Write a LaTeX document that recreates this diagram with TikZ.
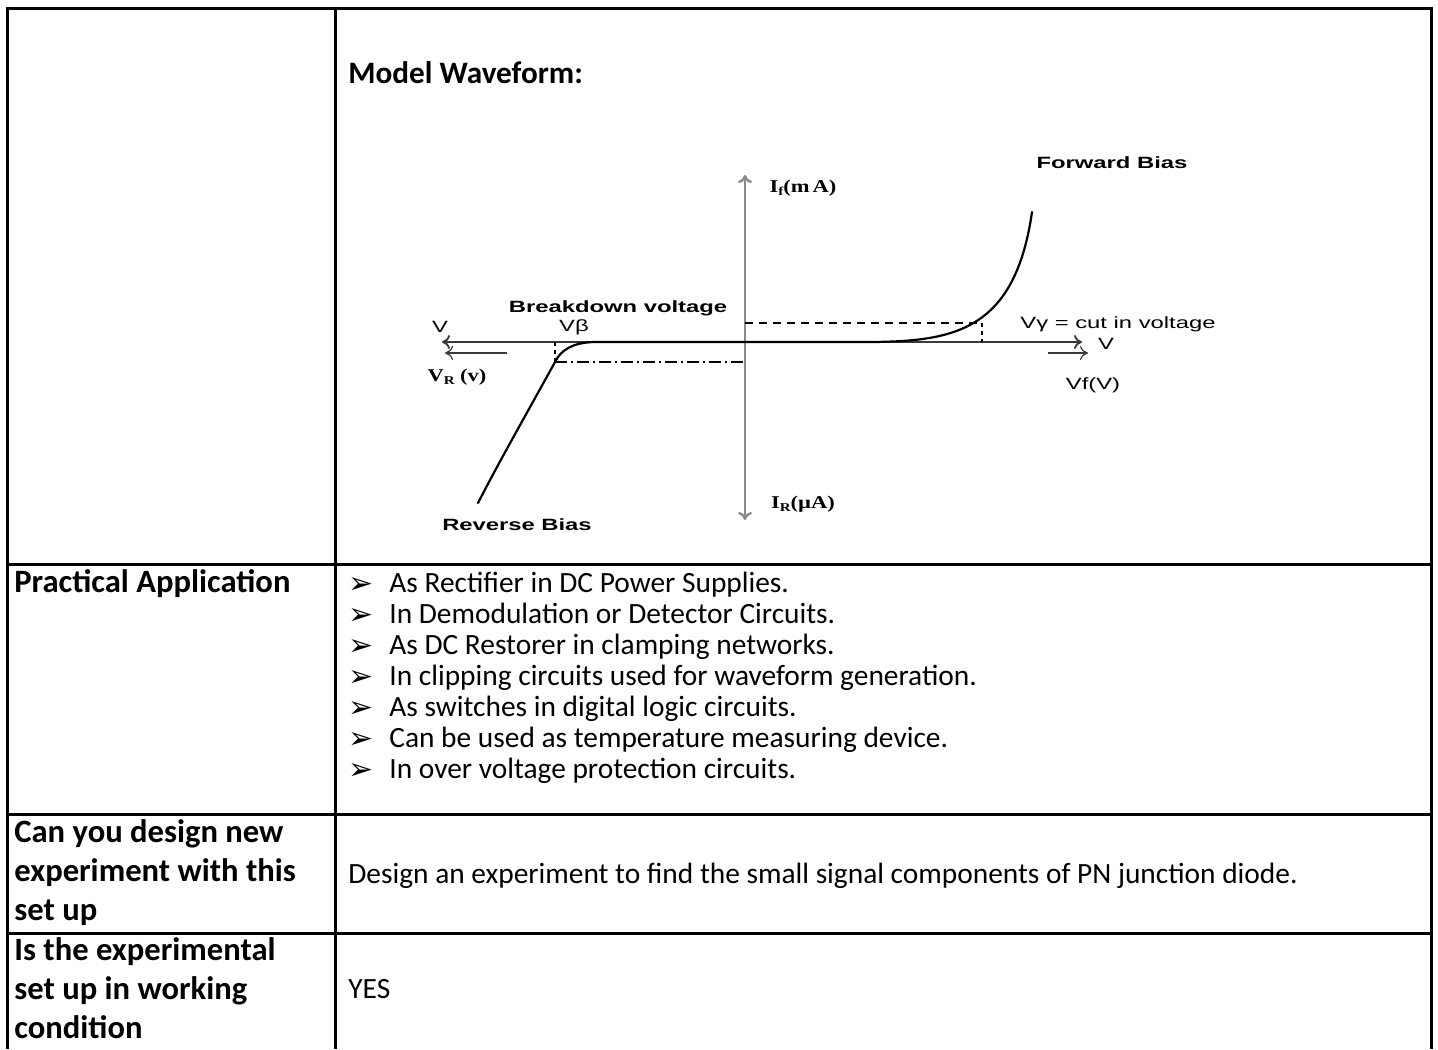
\documentclass[tikz,border=0pt]{standalone}
\usepackage{fontspec}
\usetikzlibrary{arrows.meta, positioning, calc}
\newfontfamily\calx{Carlito}
\newfontfamily\arialx[FakeStretch=1.46]{Liberation Sans}
\newfontfamily\timesx[FakeStretch=1.25]{Liberation Serif}
\newfontfamily\symx{DejaVu Sans}
\definecolor{axisgray}{HTML}{8A8A8A}
\definecolor{inkgray}{HTML}{3A3A3A}

\begin{document}
\begin{tikzpicture}[
  x=0.5pt, y=-0.5pt,
  rule/.style={line width=1.5pt},
  cell/.style={anchor=base west, inner sep=0pt,
    font=\calx\fontsize{14.7}{17}\selectfont},
  head/.style={cell, font=\calx\bfseries\fontsize{16.3}{19}\selectfont},
  lbl/.style={inner sep=0pt, font=\arialx\fontsize{8.15}{10}\selectfont},
  blbl/.style={lbl, font=\arialx\bfseries\fontsize{8.15}{10}\selectfont},
  tlbl/.style={inner sep=0pt, font=\timesx\bfseries\fontsize{9}{11}\selectfont},
  curve/.style={line width=1.1pt, line cap=round},
  guide/.style={line width=0.6pt, dash pattern=on 4pt off 3pt},
  >={To[length=4pt,width=7pt]}
]
  \useasboundingbox (0,0) rectangle (1438,1049);

  % Table frame
  \draw[rule] (7,1049) -- (7,8) -- (1431,8) -- (1431,1049);
  \draw[rule] (335,8) -- (335,1049);
  \foreach \r in {564,814,933} {
    \draw[rule] (7,\r) -- (1431,\r);
  }

  % Waveform cell
  \node[head, font=\calx\bfseries\fontsize{15.6}{18}\selectfont] (model) at (348,83) {Model Waveform:};

  % Axes
  \coordinate (o) at (745,342);
  \coordinate (ytop) at (745,175);
  \coordinate (ybot) at (745,520);
  \coordinate (xleft) at (442,342);
  \coordinate (xright) at (1082,342);
  \draw[->, line width=1.2pt, axisgray] (o) -- (ytop);
  \draw[->, line width=1.2pt, axisgray] (o) -- (ybot);
  \draw[->, line width=0.9pt, inkgray] (o) -- (xleft);
  \draw[->, line width=0.9pt, inkgray] (o) -- (xright);

  \coordinate (vrs) at (507,353);
  \coordinate (vre) at (445,353);
  \coordinate (vfs) at (1048,353);
  \coordinate (vfe) at (1088,353);
  \draw[->, line width=0.6pt, inkgray] (vrs) -- (vre);
  \draw[->, line width=0.6pt, inkgray] (vfs) -- (vfe);

  % Characteristic
  \coordinate (kf) at (982,323);
  \coordinate (kr) at (555,362);
  \draw[curve] (745,342) -- (873,342)
    .. controls (955,341) and (1015,330) .. (1032,212);
  \draw[curve] (745,342) -- (593,342)
    .. controls (572,343) and (561,350) .. (kr)
    .. controls (532,404) and (500,460) .. (478,503);

  % Guides
  \draw[guide] (745,323) -- (kf);
  \draw[guide, dash pattern=on 2pt off 2pt] (kf) -- (982,342);
  \draw[guide, dash pattern=on 2pt off 2pt] (555,342) -- (kr);
  \draw[guide, dash pattern=on 6pt off 2pt on 1pt off 2pt] (kr) -- (745,362);

  % Labels
  \node[blbl] (fwd) at (1112,163) {Forward Bias};
  \node[blbl] (rev) at (517,525) {Reverse Bias};
  \node[blbl] (bdv) at (618,308) {Breakdown voltage};
  \node[lbl] (vbeta) at (574,327) {Vβ};
  \node[lbl] (vleft) at (440,327) {V};
  \node[lbl] (vright) at (1106,344) {V};
  \node[lbl] (vcut) at (1118,324) {Vγ = cut in voltage};
  \node[lbl] (vf) at (1093,385) {Vf(V)};
  \node[tlbl] (iflbl) at (803,188) {I\raisebox{-0.35ex}{\fontsize{6}{6}\selectfont f}(m\,A)};
  \node[tlbl] (irlbl) at (803,504) {I\raisebox{-0.35ex}{\fontsize{6}{6}\selectfont R}(\textmu A)};
  \node[tlbl] (vrlbl) at (457,377) {V\raisebox{-0.35ex}{\fontsize{6}{6}\selectfont R} (v)};

  % Practical application
  \node[head] (practical) at (14,592) {Practical Application};
  \foreach \t [count=\i] in {As Rectifier in DC Power Supplies.,
      In Demodulation or Detector Circuits.,
      As DC Restorer in clamping networks.,
      In clipping circuits used for waveform generation.,
      As switches in digital logic circuits.,
      Can be used as temperature measuring device.,
      In over voltage protection circuits.} {
    \node[cell, font=\symx\fontsize{15}{17}\selectfont] (arr\i) at (348,{593+31*(\i-1)}) {➢};
    \node[cell] (app\i) at (389,{592+31*(\i-1)}) {\t};
  }

  % Design
  \node[head] (design1) at (14,842) {Can you design new};
  \node[head] (design2) at (14,881) {experiment with this};
  \node[head] (design3) at (14,920) {set up};
  \node[cell] (designtxt) at (348,883)
    {Design an experiment to find the small signal components of PN junction diode.};

  % Working condition
  \node[head] (work1) at (14,960) {Is the experimental};
  \node[head] (work2) at (14,999) {set up in working};
  \node[head] (work3) at (14,1038) {condition};
  \node[cell] (yes) at (348,998) {YES};
\end{tikzpicture}
\end{document}
